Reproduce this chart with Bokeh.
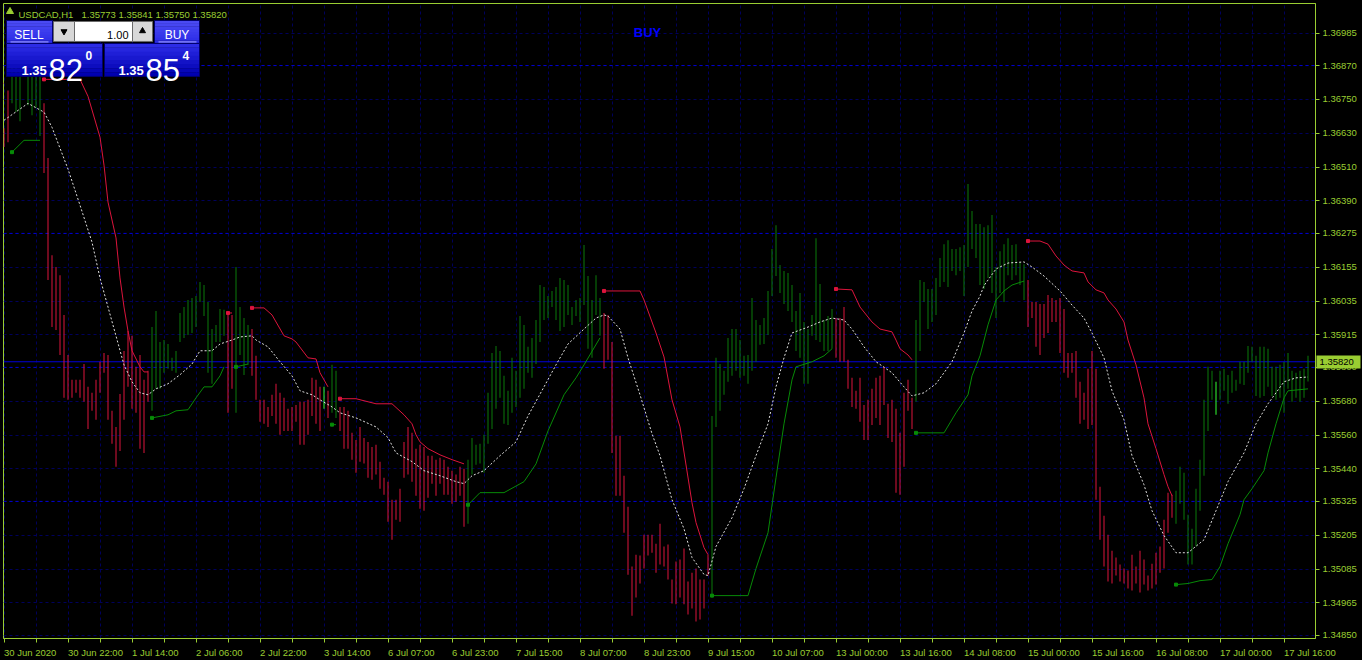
from bokeh.plotting import figure
from bokeh.models import ColumnDataSource, FixedTicker, PrintfTickFormatter, Span
from bokeh.core.properties import value
from bokeh.embed import file_html
from bokeh.resources import INLINE

# ------------------------------------------------------------------ data
symbol = "USDCAD,H1"
last_ohlc = "1.35773 1.35841 1.35750 1.35820"
last_price = 1.35820
signal_text = "BUY"
lot_text = "1.00"
sell_quote = ["1.35", "82", "0"]
buy_quote = ["1.35", "85", "4"]

time_labels = ["30 Jun 2020", "30 Jun 22:00", "1 Jul 14:00", "2 Jul 06:00", "2 Jul 22:00",
               "3 Jul 14:00", "6 Jul 07:00", "6 Jul 23:00", "7 Jul 15:00", "8 Jul 07:00",
               "8 Jul 23:00", "9 Jul 15:00", "10 Jul 07:00", "13 Jul 00:00", "13 Jul 16:00",
               "14 Jul 08:00", "15 Jul 00:00", "15 Jul 16:00", "16 Jul 08:00", "17 Jul 00:00",
               "17 Jul 16:00"]
label_step = 16
grid_step = 8

price_ticks = [1.34850, 1.34965, 1.35085, 1.35205, 1.35325, 1.35440, 1.35560, 1.35680,
               1.35800, 1.35915, 1.36035, 1.36155, 1.36275, 1.36390, 1.36510, 1.36630,
               1.36750, 1.36870, 1.36985]
level_lines = [1.36870, 1.36275, 1.35800, 1.35325]

bar_high = [
    1.36648, 1.36782, 1.36882, 1.36867, 1.36853, 1.36889, 1.36874, 1.36860, 1.36867, 1.36835,
    1.36736, 1.36542, 1.36198, 1.36156, 1.36127, 1.35986, 1.35844, 1.35756, 1.35756, 1.35756,
    1.35812, 1.35731, 1.35710, 1.35756, 1.35820, 1.35851, 1.35844, 1.35646, 1.35589, 1.35706,
    1.35858, 1.35929, 1.35912, 1.35802, 1.35844, 1.35756, 1.35788, 1.35943, 1.36000, 1.35890,
    1.35897, 1.35883, 1.35834, 1.35858, 1.35993, 1.36014, 1.36039, 1.36046, 1.36053, 1.36103,
    1.36092, 1.36032, 1.35936, 1.35950, 1.36007, 1.36004, 1.35993, 1.35986, 1.36156, 1.36014,
    1.35975, 1.35950, 1.35936, 1.35841, 1.35685, 1.35685, 1.35660, 1.35703, 1.35742, 1.35710,
    1.35692, 1.35653, 1.35660, 1.35667, 1.35678, 1.35678, 1.35685, 1.35763, 1.35756, 1.35731,
    1.35731, 1.35717, 1.35809, 1.35788, 1.35660, 1.35660, 1.35646, 1.35568, 1.35543, 1.35589,
    1.35550, 1.35536, 1.35518, 1.35526, 1.35466, 1.35409, 1.35395, 1.35331, 1.35331, 1.35370,
    1.35536, 1.35589, 1.35568, 1.35512, 1.35526, 1.35518, 1.35487, 1.35487, 1.35473, 1.35480,
    1.35473, 1.35448, 1.35434, 1.35420, 1.35448, 1.35441, 1.35473, 1.35550, 1.35526, 1.35529,
    1.35561, 1.35710, 1.35851, 1.35876, 1.35858, 1.35770, 1.35717, 1.35834, 1.35788, 1.35982,
    1.35950, 1.35873, 1.35904, 1.35968, 1.36092, 1.36085, 1.36053, 1.36071, 1.36085, 1.36117,
    1.36110, 1.36092, 1.36014, 1.36039, 1.36046, 1.36234, 1.36124, 1.36039, 1.36127, 1.36046,
    1.35993, 1.35986, 1.35890, 1.35558, 1.35558, 1.35416, 1.35306, 1.35094, 1.35136, 1.35133,
    1.35207, 1.35207, 1.35207, 1.35175, 1.35246, 1.35165, 1.35172, 1.35048, 1.35112, 1.35119,
    1.35158, 1.35041, 1.35072, 1.35087, 1.35048, 1.35048, 1.35136, 1.35628, 1.35834, 1.35812,
    1.35788, 1.35904, 1.35936, 1.35936, 1.35897, 1.35841, 1.35844, 1.36046, 1.35968, 1.35950,
    1.35975, 1.36071, 1.36220, 1.36304, 1.36163, 1.36142, 1.36135, 1.36092, 1.36000, 1.36064,
    1.35961, 1.35936, 1.35986, 1.36258, 1.36096, 1.35968, 1.35982, 1.36007, 1.35975, 1.35975,
    1.36014, 1.35827, 1.35763, 1.35717, 1.35763, 1.35667, 1.35685, 1.35724, 1.35763, 1.35770,
    1.35802, 1.35671, 1.35685, 1.35653, 1.35568, 1.35710, 1.35756, 1.35692, 1.35968, 1.36110,
    1.36103, 1.36078, 1.36078, 1.36117, 1.36188, 1.36237, 1.36251, 1.36220, 1.36220, 1.36226,
    1.36234, 1.36450, 1.36354, 1.36308, 1.36308, 1.36297, 1.36304, 1.36340, 1.36156, 1.36212,
    1.36237, 1.36258, 1.36234, 1.36237, 1.36173, 1.36166, 1.36110, 1.36032, 1.36032, 1.36025,
    1.36025, 1.36057, 1.36046, 1.36039, 1.36046, 1.36007, 1.35851, 1.35851, 1.35858, 1.35749,
    1.35710, 1.35795, 1.35858, 1.35795, 1.35377, 1.35274, 1.35207, 1.35150, 1.35126, 1.35101,
    1.35087, 1.35080, 1.35136, 1.35094, 1.35150, 1.35119, 1.35062, 1.35104, 1.35143, 1.35165,
    1.35260, 1.35356, 1.35349, 1.35363, 1.35448, 1.35427, 1.35278, 1.35228, 1.35370, 1.35473,
    1.35685, 1.35802, 1.35788, 1.35749, 1.35788, 1.35795, 1.35773, 1.35788, 1.35756, 1.35820,
    1.35820, 1.35876, 1.35873, 1.35841, 1.35873, 1.35873, 1.35866, 1.35802, 1.35802, 1.35809,
    1.35820, 1.35851, 1.35788, 1.35781, 1.35788, 1.35795, 1.35841]

bar_low = [
    1.36581, 1.36598, 1.36736, 1.36705, 1.36673, 1.36832, 1.36729, 1.36694, 1.36719, 1.36620,
    1.36489, 1.36110, 1.35943, 1.35933, 1.35844, 1.35692, 1.35685, 1.35692, 1.35710, 1.35692,
    1.35678, 1.35582, 1.35646, 1.35614, 1.35710, 1.35781, 1.35614, 1.35529, 1.35448, 1.35504,
    1.35614, 1.35731, 1.35653, 1.35639, 1.35512, 1.35497, 1.35678, 1.35646, 1.35724, 1.35724,
    1.35781, 1.35795, 1.35788, 1.35781, 1.35890, 1.35904, 1.35915, 1.35922, 1.35943, 1.36032,
    1.35982, 1.35781, 1.35742, 1.35890, 1.35890, 1.35912, 1.35639, 1.35724, 1.35639, 1.35844,
    1.35773, 1.35809, 1.35770, 1.35685, 1.35607, 1.35600, 1.35589, 1.35628, 1.35600, 1.35561,
    1.35575, 1.35575, 1.35575, 1.35607, 1.35526, 1.35526, 1.35561, 1.35628, 1.35600, 1.35575,
    1.35653, 1.35621, 1.35639, 1.35621, 1.35575, 1.35512, 1.35512, 1.35473, 1.35427, 1.35466,
    1.35459, 1.35409, 1.35402, 1.35420, 1.35370, 1.35349, 1.35253, 1.35189, 1.35260, 1.35253,
    1.35409, 1.35420, 1.35395, 1.35345, 1.35299, 1.35292, 1.35338, 1.35388, 1.35345, 1.35388,
    1.35349, 1.35349, 1.35317, 1.35324, 1.35345, 1.35235, 1.35246, 1.35420, 1.35455, 1.35459,
    1.35427, 1.35529, 1.35582, 1.35653, 1.35692, 1.35600, 1.35596, 1.35639, 1.35660, 1.35692,
    1.35724, 1.35781, 1.35763, 1.35812, 1.35890, 1.35968, 1.35975, 1.36014, 1.35968, 1.35929,
    1.35943, 1.35986, 1.35950, 1.35982, 1.35961, 1.36021, 1.35866, 1.35834, 1.35986, 1.35912,
    1.35795, 1.35827, 1.35497, 1.35345, 1.35345, 1.35214, 1.35065, 1.34920, 1.34984, 1.35034,
    1.35087, 1.35133, 1.35143, 1.35072, 1.35101, 1.35094, 1.35048, 1.34963, 1.34960, 1.34984,
    1.34960, 1.34924, 1.34945, 1.34899, 1.34906, 1.34945, 1.35062, 1.34984, 1.35589, 1.35646,
    1.35703, 1.35749, 1.35770, 1.35788, 1.35763, 1.35770, 1.35742, 1.35788, 1.35820, 1.35880,
    1.35883, 1.35915, 1.36053, 1.36124, 1.36064, 1.36025, 1.36000, 1.35961, 1.35858, 1.35834,
    1.35742, 1.35742, 1.35912, 1.35897, 1.35890, 1.35858, 1.35858, 1.35866, 1.35834, 1.35820,
    1.35820, 1.35724, 1.35660, 1.35653, 1.35607, 1.35543, 1.35543, 1.35596, 1.35621, 1.35596,
    1.35667, 1.35550, 1.35536, 1.35356, 1.35349, 1.35448, 1.35646, 1.35582, 1.35678, 1.35858,
    1.36032, 1.35936, 1.35961, 1.35986, 1.36085, 1.36103, 1.36085, 1.36142, 1.36127, 1.36142,
    1.36053, 1.36156, 1.36220, 1.36188, 1.36092, 1.36078, 1.36117, 1.36064, 1.35975, 1.36064,
    1.36032, 1.36127, 1.36110, 1.36127, 1.36092, 1.36039, 1.35943, 1.35975, 1.35873, 1.35844,
    1.35904, 1.35922, 1.35961, 1.35961, 1.35851, 1.35781, 1.35763, 1.35781, 1.35692, 1.35600,
    1.35614, 1.35582, 1.35596, 1.35331, 1.35189, 1.35094, 1.35041, 1.35034, 1.35062, 1.35041,
    1.35034, 1.35016, 1.35009, 1.35034, 1.35002, 1.35030, 1.35009, 1.35016, 1.35030, 1.35072,
    1.35087, 1.35214, 1.35267, 1.35246, 1.35317, 1.35260, 1.35101, 1.35101, 1.35165, 1.35292,
    1.35416, 1.35575, 1.35685, 1.35632, 1.35685, 1.35717, 1.35671, 1.35710, 1.35717, 1.35742,
    1.35738, 1.35781, 1.35820, 1.35699, 1.35692, 1.35699, 1.35731, 1.35699, 1.35685, 1.35692,
    1.35639, 1.35724, 1.35678, 1.35692, 1.35678, 1.35692, 1.35750]

trend_runs = [("down", 0, 1), ("up", 2, 9), ("down", 10, 36), ("up", 37, 55), ("down", 56, 57),
              ("up", 58, 61), ("down", 62, 79), ("mark", 80, 80), ("down", 81, 81), ("up", 82, 83),
              ("down", 84, 115), ("up", 116, 149), ("down", 150, 176), ("up", 177, 207),
              ("down", 208, 227), ("up", 228, 255), ("down", 256, 292), ("up", 293, 302),
              ("mark", 303, 303), ("up", 304, 326)]

center_idx = [0, 6, 10, 12, 16, 19, 22, 24, 26, 30, 32, 34, 36, 38, 41, 44, 47, 49, 52, 54,
              57, 59, 62, 63, 66, 69, 72, 74, 77, 79, 82, 84, 88, 93, 96, 98, 102, 105, 109, 113,
              115, 117, 120, 124, 128, 131, 135, 138, 141, 145, 148, 150, 151, 154, 156, 159, 162, 164, 167, 170,
              172, 175, 176, 178, 182, 185, 188, 191, 193, 195, 197, 201, 204, 207, 210, 212, 215, 218, 222, 225,
              227, 230, 233, 237, 240, 242, 244, 245, 248, 251, 255, 257, 260, 264, 267, 270, 272, 275, 277, 280,
              282, 285, 287, 290, 293, 296, 300, 303, 306, 310, 313, 316, 320, 323, 326]
center_val = [1.36676, 1.36736, 1.36705, 1.36651, 1.36503, 1.36375, 1.36244, 1.36117, 1.36014, 1.35809,
              1.35749, 1.35710, 1.35703, 1.35724, 1.35742, 1.35774, 1.35812, 1.35859, 1.35859, 1.35883,
              1.35897, 1.35908, 1.35912, 1.35897, 1.35873, 1.35820, 1.35770, 1.35717, 1.35703, 1.35685,
              1.35660, 1.35639, 1.35621, 1.35589, 1.35551, 1.35497, 1.35466, 1.35434, 1.35416, 1.35395,
              1.35388, 1.35416, 1.35434, 1.35487, 1.35536, 1.35628, 1.35731, 1.35809, 1.35883, 1.35936,
              1.35975, 1.35986, 1.35982, 1.35936, 1.35834, 1.35703, 1.35565, 1.35487, 1.35331, 1.35228,
              1.35126, 1.35066, 1.35062, 1.35165, 1.35267, 1.35370, 1.35487, 1.35600, 1.35731, 1.35834,
              1.35922, 1.35943, 1.35961, 1.35975, 1.35968, 1.35936, 1.35873, 1.35820, 1.35781, 1.35731,
              1.35699, 1.35710, 1.35742, 1.35820, 1.35922, 1.36000, 1.36053, 1.36090, 1.36149, 1.36170,
              1.36174, 1.36156, 1.36124, 1.36071, 1.36021, 1.35975, 1.35922, 1.35834, 1.35717, 1.35614,
              1.35487, 1.35384, 1.35292, 1.35204, 1.35143, 1.35143, 1.35189, 1.35292, 1.35395, 1.35497,
              1.35600, 1.35671, 1.35749, 1.35763, 1.35766]

upper_x = [[-1, 0],
           [10, 19, 21, 24, 25, 26, 28, 29, 30, 31, 32, 34, 35, 36],
           [56, 57],
           [62, 65, 67, 70, 72, 73, 76, 78, 79, 81],
           [84, 88, 93, 97, 100, 102, 103, 104, 106, 109, 112, 115],
           [150, 159, 160, 163, 165, 167, 169, 172, 173, 175, 176],
           [208, 212, 214, 217, 219, 222, 223, 224, 226, 227],
           [256, 259, 261, 263, 265, 266, 267, 270, 271, 273, 275, 276, 278, 280, 281, 283, 285, 286,
            288, 290, 291, 292]]
upper_y = [[1.36807, 1.36807],
           [1.36821, 1.36821, 1.36761, 1.36616, 1.36517, 1.36386, 1.36259, 1.36117, 1.36014, 1.35929,
            1.35859, 1.35802, 1.35784, 1.35784],
           [1.35993, 1.35993],
           [1.36011, 1.36011, 1.35986, 1.35912, 1.35901, 1.35890, 1.35834, 1.35830, 1.35781, 1.35731],
           [1.35689, 1.35689, 1.35671, 1.35671, 1.35632, 1.35600, 1.35561, 1.35536, 1.35512, 1.35490,
            1.35473, 1.35458],
           [1.36071, 1.36071, 1.36039, 1.35922, 1.35837, 1.35685, 1.35589, 1.35320, 1.35250, 1.35161,
            1.35136],
           [1.36078, 1.36075, 1.36014, 1.35961, 1.35936, 1.35926, 1.35897, 1.35866, 1.35844, 1.35827],
           [1.36248, 1.36248, 1.36237, 1.36195, 1.36163, 1.36152, 1.36142, 1.36135, 1.36103, 1.36075,
            1.36064, 1.36039, 1.36007, 1.35961, 1.35897, 1.35809, 1.35692, 1.35600, 1.35512, 1.35420,
            1.35377, 1.35345]]

lower_x = [[2, 5, 9],
           [37, 41, 43, 46, 48, 50, 52, 54, 55],
           [58, 61],
           [82, 83],
           [116, 119, 125, 130, 133, 136, 140, 143, 145, 149],
           [177, 186, 188, 191, 193, 195, 197, 198, 202, 205, 207],
           [228, 235, 238, 241, 242, 244, 246, 248, 250, 252, 255],
           [293, 296, 299, 302, 304, 306, 309, 310, 312, 315, 316, 318, 320, 321, 326]]
lower_y = [[1.36563, 1.36605, 1.36605],
           [1.35621, 1.35632, 1.35646, 1.35650, 1.35692, 1.35731, 1.35731, 1.35770, 1.35802],
           [1.35802, 1.35812],
           [1.35597, 1.35597],
           [1.35313, 1.35356, 1.35356, 1.35395, 1.35458, 1.35575, 1.35703, 1.35763, 1.35809, 1.35905],
           [1.34991, 1.34991, 1.35087, 1.35214, 1.35409, 1.35600, 1.35756, 1.35802, 1.35820, 1.35841,
            1.35866],
           [1.35568, 1.35568, 1.35639, 1.35703, 1.35770, 1.35841, 1.35951, 1.36039, 1.36071, 1.36092,
            1.36106],
           [1.35030, 1.35034, 1.35044, 1.35048, 1.35094, 1.35175, 1.35278, 1.35331, 1.35370, 1.35434,
            1.35497, 1.35600, 1.35692, 1.35717, 1.35724]]

# ------------------------------------------------------------------ style
FG = "#9acd32"
RED = "#dc143c"
GREEN = "#0b7a0b"
LGREEN = "#078a07"
LIME = "#33ff33"
GRID = "#00005c"
LEVEL = "#0000d0"
FONT = "Liberation Sans"
trend_color = {"down": RED, "up": GREEN, "mark": LIME}

W, H = 1362, 660
FL, FT, FR, FB = 3, 3, 1315, 639          # frame edges in canvas pixels
XS = -0.125
XE = XS + (FR - FL) / 4.0                 # 4 px per hourly bar
YS, YE = 1.34839, 1.37090
BAR_W = 0.25                              # one pixel wide


def X(px):
    return XS + (px - FL) * (XE - XS) / (FR - FL)


def Y(py):
    return YE - (py - FT) * (YE - YS) / (FB - FT)


CW = {c: 556 for c in "0123456789"}
CW.update({" ": 278, ":": 278, ".": 278, ",": 278, "J": 500, "u": 556, "n": 556, "l": 222})


def text_width(s, size):
    return sum(CW.get(c, 556) for c in s) * size / 1000.0


# ------------------------------------------------------------------ figure
p = figure(width=W, height=H, x_range=(XS, XE), y_range=(YS, YE), y_axis_location="right",
           toolbar_location=None, output_backend="svg",
           background_fill_color="black", border_fill_color="black",
           min_border_left=FL, min_border_top=FT, min_border_right=W - FR, min_border_bottom=H - FB,
           outline_line_color=FG, outline_line_width=1)

try:
    from bokeh.models import GlobalInlineStyleSheet
    p.stylesheets = [GlobalInlineStyleSheet(
        css="html, body { margin: 0 !important; padding: 0; background: #000000; overflow: hidden; }")]
except Exception:
    pass

n = len(bar_high)
bar_colors = [None] * n
for kind, a, b in trend_runs:
    for i in range(a, b + 1):
        bar_colors[i] = trend_color[kind]

# axes
px_per_bar = (FR - FL) / (XE - XS)
label_pos = []
overrides = {}
for k, lbl in enumerate(time_labels):
    c = round(k * label_step + text_width(lbl, 9.5) / 2.0 / px_per_bar, 4)
    label_pos.append(c)
    overrides[c] = lbl
grid_pos = list(range(0, n + 1, grid_step))

xa = p.xaxis[0]
xa.ticker = FixedTicker(ticks=label_pos, minor_ticks=grid_pos)
xa.major_label_overrides = overrides
xa.axis_line_color = FG
xa.major_tick_out = 0
xa.major_tick_in = 0
xa.minor_tick_out = 4
xa.minor_tick_in = 0
xa.minor_tick_line_color = FG
xa.major_label_text_color = FG
xa.major_label_text_font = FONT
xa.major_label_text_font_size = "9.5px"
xa.major_label_standoff = 4

ya = p.yaxis[0]
ya.ticker = FixedTicker(ticks=price_ticks, minor_ticks=[])
ya.formatter = PrintfTickFormatter(format="%.5f")
ya.axis_line_color = FG
ya.major_tick_out = 4
ya.major_tick_in = 0
ya.major_tick_line_color = FG
ya.minor_tick_line_color = None
ya.major_label_text_color = FG
ya.major_label_text_font = FONT
ya.major_label_text_font_size = "9.5px"
ya.major_label_standoff = 3

p.xgrid.ticker = FixedTicker(ticks=grid_pos)
for g in (p.xgrid[0], p.ygrid[0]):
    g.grid_line_color = GRID
    g.grid_line_dash = "3 3"
    g.grid_line_width = 1

for lv in level_lines:
    p.add_layout(Span(location=lv, dimension="width", line_color=LEVEL, line_dash="3 3",
                      line_width=1, level="underlay"))
p.add_layout(Span(location=last_price, dimension="width", line_color="#0000d8", line_width=1,
                  level="underlay"))

# high-low bars (one pixel wide)
src = ColumnDataSource(dict(x=list(range(n)), high=bar_high, low=bar_low, color=bar_colors))
p.vbar(x="x", width=BAR_W, top="high", bottom="low", fill_color="color", line_color=None,
       source=src)

# indicator lines
p.line(center_idx, center_val, line_color="#e0e0e0", line_dash="2 2", line_width=1)
p.multi_line(xs=upper_x, ys=upper_y, line_color=RED, line_width=1)
p.multi_line(xs=lower_x, ys=lower_y, line_color=LGREEN, line_width=1)
p.scatter([s[0] for s in upper_x[1:]], [s[0] for s in upper_y[1:]], marker="square", size=3,
          color=RED)
p.scatter([s[0] for s in lower_x], [s[0] for s in lower_y], marker="square", size=3, color=LGREEN)

# ------------------------------------------------------------------ header texts
p.scatter([X(9.5)], [Y(11)], marker="triangle", size=7, color=FG)
p.text([X(18)], [Y(14)], text=[symbol], text_color=FG, text_font=value(FONT),
       text_font_size=value("9.5px"), text_baseline="alphabetic", text_align="left")
p.text([X(81)], [Y(14)], text=[last_ohlc], text_color=FG, text_font=value(FONT),
       text_font_size=value("9.5px"), text_baseline="alphabetic", text_align="left")
p.text([X(647)], [Y(32)], text=[signal_text], text_color="#0000ff", text_font=value(FONT),
       text_font_size=value("13px"), text_font_style="bold", text_baseline="alphabetic",
       text_align="center")


# ------------------------------------------------------------------ trade panel
def hexmix(c1, c2, t):
    a = [int(c1[i:i + 2], 16) for i in (1, 3, 5)]
    b = [int(c2[i:i + 2], 16) for i in (1, 3, 5)]
    return "#%02x%02x%02x" % tuple(int(round(a[j] + (b[j] - a[j]) * t)) for j in range(3))


def grad_box(l, r, t, b, ctop, cbot, steps=8):
    h = (b - t) / steps
    L, R, T, B, C = [], [], [], [], []
    for k in range(steps):
        L.append(X(l)); R.append(X(r))
        T.append(Y(t + k * h)); B.append(Y(t + (k + 1) * h + 0.3))
        C.append(hexmix(ctop, cbot, k / (steps - 1)))
    p.quad(left=L, right=R, top=T, bottom=B, fill_color=C, line_color=None)
    p.quad(left=[X(l)], right=[X(r)], top=[Y(t)], bottom=[Y(b)], fill_color=None,
           line_color="#00006a", line_width=1)


grad_box(6, 52, 20, 43, "#4a4af4", "#2c2ce6")
grad_box(154, 199, 20, 43, "#4a4af4", "#2c2ce6")
grad_box(6, 102, 43, 76, "#2c2ce6", "#0000b0")
grad_box(104, 199, 43, 76, "#2c2ce6", "#0000b0")
p.segment(x0=[X(10), X(158)], y0=[Y(41.5)] * 2, x1=[X(48), X(196)], y1=[Y(41.5)] * 2,
          line_color="#a8a8ff", line_width=1)

# lot control
p.quad(left=[X(53), X(74), X(132)], right=[X(74), X(132), X(152)], top=[Y(21)] * 3,
       bottom=[Y(41)] * 3, fill_color=["#d8d8d8", "#ffffff", "#d8d8d8"], line_color="#6a6a6a")
p.scatter([X(63.5)], [Y(31)], marker="inverted_triangle", size=6, color="black")
p.scatter([X(142)], [Y(30.5)], marker="triangle", size=6, color="black")
p.text([X(128)], [Y(35)], text=[lot_text], text_color="black", text_font=value(FONT),
       text_font_size=value("11px"), text_align="right", text_baseline="alphabetic")

p.text([X(28.5), X(176.5)], [Y(35), Y(35)], text=["SELL", "BUY"], text_color="white",
       text_font=value(FONT), text_font_size=value("12px"), text_align="center",
       text_baseline="alphabetic")

for q, x0 in ((sell_quote, 21), (buy_quote, 118)):
    p.text([X(x0)], [Y(70)], text=[q[0]], text_color="white", text_font=value(FONT),
           text_font_size=value("13px"), text_font_style="bold", text_baseline="alphabetic")
    p.text([X(x0 + 27)], [Y(70)], text=[q[1]], text_color="white", text_font=value(FONT),
           text_font_size=value("31px"), text_baseline="alphabetic")
    p.text([X(x0 + 64)], [Y(55)], text=[q[2]], text_color="white", text_font=value(FONT),
           text_font_size=value("12px"), text_font_style="bold", text_baseline="alphabetic")

# current price tag on the price axis (overlay level so it may sit outside the frame)
tag_y = [last_price]
p.quad(left=[X(1316)], right=[X(1360)], top=[Y(355.5)], bottom=[Y(368.5)], fill_color=FG,
       line_color=None, level="overlay")
p.text([X(1319)], tag_y, text=["%.5f" % last_price], text_color="black", text_font=value(FONT),
       text_font_size=value("9.5px"), text_align="left", text_baseline="middle", level="overlay")

open("out.html", "w").write(file_html(p, INLINE))
